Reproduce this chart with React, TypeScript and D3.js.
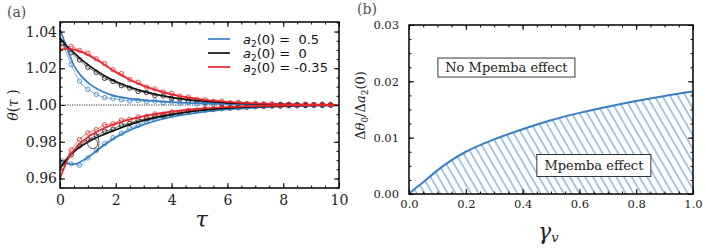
import { useRef, useEffect } from "react"
import * as d3 from "d3"

// panel (a): theory curves
const tauTheory = [0, 0.25, 0.5, 0.75, 1, 1.5, 2, 2.5, 3, 3.5, 4, 5, 6, 7, 8, 9, 10]
const blueUp = [1.041, 1.031, 1.0215, 1.016, 1.0122, 1.0075, 1.0048, 1.0035, 1.0027, 1.0021, 1.0016, 1.001, 1.0006, 1.0003, 1.0002, 1.0001, 1.0]
const blackUp = [1.0365, 1.032, 1.0285, 1.025, 1.022, 1.0168, 1.0128, 1.0098, 1.0074, 1.0056, 1.0042, 1.0023, 1.0012, 1.0006, 1.0003, 1.0001, 1.0]
const redUp = [1.0303, 1.0305, 1.0302, 1.029, 1.0272, 1.0228, 1.0178, 1.0138, 1.0104, 1.0078, 1.0058, 1.0032, 1.0017, 1.0009, 1.0004, 1.0002, 1.0001]
const blueLow = [0.9703, 0.968, 0.9678, 0.9692, 0.9715, 0.9773, 0.9823, 0.9862, 0.9893, 0.9917, 0.9935, 0.996, 0.9976, 0.9986, 0.9992, 0.9996, 0.9998]
const blackLow = [0.9655, 0.9705, 0.9745, 0.9775, 0.9798, 0.9835, 0.9865, 0.9893, 0.9916, 0.9934, 0.9948, 0.997, 0.9983, 0.9991, 0.9995, 0.9998, 0.9999]
const redLow = [0.96, 0.9695, 0.9755, 0.9795, 0.9825, 0.9868, 0.9898, 0.9921, 0.9939, 0.9953, 0.9964, 0.998, 0.9989, 0.9994, 0.9997, 0.9999, 0.9999]

// panel (a): simulation points
const tauSim = [0.1, 0.4, 0.7, 1.0, 1.3, 1.6, 1.9, 2.2, 2.5, 2.8, 3.1, 3.4, 3.7, 4.0, 4.3, 4.6, 4.9, 5.2, 5.5, 5.8, 6.1, 6.4, 6.7, 7.0, 7.3, 7.6, 7.9, 8.2, 8.5, 8.8, 9.1, 9.4, 9.7]
const blueUpSim = [1.034, 1.022, 1.013, 1.0085, 1.0058, 1.004, 1.0035, 1.0028, 1.0022, 1.0025, 1.0018, 1.0021, 1.0012, 1.0016, 1.0009, 1.0013, 1.0006, 1.0009, 1.0004, 1.0011, 1.0002, 1.0006, 0.9999, 1.0005, 1.0001, 0.9998, 1.0004, 0.9999, 1.0003, 0.9998, 1.0002, 0.9999, 1.0003]
const blackUpSim = [1.0335, 1.0285, 1.0245, 1.0205, 1.0178, 1.0145, 1.0128, 1.0105, 1.0092, 1.0074, 1.0068, 1.0052, 1.0049, 1.0036, 1.0033, 1.0024, 1.0022, 1.0015, 1.0016, 1.0008, 1.001, 1.0004, 1.0007, 1.0001, 1.0005, 0.9999, 1.0003, 1.0, 1.0002, 0.9998, 1.0002, 0.9999, 1.0001]
const redUpSim = [1.0312, 1.0318, 1.0297, 1.0281, 1.0252, 1.0226, 1.0192, 1.0171, 1.0139, 1.0124, 1.0098, 1.0088, 1.0071, 1.0063, 1.0049, 1.0044, 1.0031, 1.0029, 1.0019, 1.0021, 1.0011, 1.0014, 1.0005, 1.0009, 1.0003, 1.0007, 1.0001, 1.0005, 1.0, 1.0004, 1.0002, 1.0004, 1.0001]
const blueLowSim = [0.9695, 0.968, 0.9672, 0.9712, 0.9752, 0.979, 0.9822, 0.9846, 0.9874, 0.989, 0.9911, 0.9922, 0.9937, 0.9944, 0.9956, 0.996, 0.9971, 0.9972, 0.998, 0.9979, 0.9988, 0.9985, 0.9993, 0.999, 0.9996, 0.9993, 0.9999, 0.9995, 1.0001, 0.9997, 1.0002, 0.9998, 1.0002]
const blackLowSim = [0.9685, 0.9728, 0.9778, 0.9812, 0.9832, 0.9858, 0.9868, 0.9891, 0.99, 0.9918, 0.9925, 0.9939, 0.9943, 0.9955, 0.9957, 0.9967, 0.9968, 0.9977, 0.9976, 0.9984, 0.9983, 0.999, 0.9988, 0.9994, 0.9992, 0.9997, 0.9994, 0.9999, 0.9996, 1.0, 0.9997, 1.0001, 0.9998]
const redLowSim = [0.9665, 0.9755, 0.9812, 0.9848, 0.9866, 0.9892, 0.9898, 0.9918, 0.9922, 0.9935, 0.9938, 0.9951, 0.995, 0.9962, 0.996, 0.997, 0.9971, 0.998, 0.9979, 0.9987, 0.9986, 0.9993, 0.9991, 0.9997, 0.9995, 1.0001, 0.9997, 1.0003, 0.9999, 1.0004, 1.0, 1.0004, 1.0001]

const legendLabels = ["0.5", "0", "-0.35"]

// panel (b)
const gammaV = [0, 0.025, 0.05, 0.1, 0.15, 0.2, 0.3, 0.4, 0.5, 0.6, 0.7, 0.8, 0.9, 1.0]
const threshold = [0, 0.0011, 0.0021, 0.0042, 0.006, 0.0075, 0.0097, 0.0115, 0.0131, 0.0144, 0.0155, 0.0165, 0.0174, 0.0182]

const BLUE = "#3a7fc4"
const RED = "#e8262b"
const BLACK = "#111"
const SERIF = "'DejaVu Serif', serif"

export default function App() {
  const svgRef = useRef<SVGSVGElement>(null)

  useEffect(() => {
    const svg = d3.select(svgRef.current)
    svg.selectAll("*").remove()

    // ---------- panel (a)
    const ax = { left: 60, right: 339, top: 22, bottom: 188 }
    const x = d3.scaleLinear().domain([0, 10]).range([ax.left, ax.right])
    const y = d3.scaleLinear().domain([0.9548, 1.0452]).range([ax.bottom, ax.top])

    const frameTicks = (xs: any, ys: any, box: any, xMaj: number[], xMin: number[], yMaj: number[], yMin: number[], xFmt: any, yFmt: any, fs: number, xLabY: number, yLabGap: number) => {
      const g = svg.append("g")
      const addAxis = (axis: any, tr: string) => {
        const a = g.append("g").attr("transform", tr).call(axis)
        a.select(".domain").remove()
        a.selectAll("line").attr("stroke", "#000").attr("stroke-width", 1)
        return a
      }
      addAxis(d3.axisBottom(xs).tickValues(xMin).tickSize(-2.5).tickFormat(() => ""), `translate(0,${box.bottom})`)
      addAxis(d3.axisTop(xs).tickValues(xMin).tickSize(-2.5).tickFormat(() => ""), `translate(0,${box.top})`)
      addAxis(d3.axisTop(xs).tickValues(xMaj).tickSize(-5).tickFormat(() => ""), `translate(0,${box.top})`)
      addAxis(d3.axisLeft(ys).tickValues(yMin).tickSize(-2.5).tickFormat(() => ""), `translate(${box.left},0)`)
      addAxis(d3.axisRight(ys).tickValues(yMin).tickSize(-2.5).tickFormat(() => ""), `translate(${box.right},0)`)
      addAxis(d3.axisRight(ys).tickValues(yMaj).tickSize(-5).tickFormat(() => ""), `translate(${box.right},0)`)
      const bx = addAxis(d3.axisBottom(xs).tickValues(xMaj).tickSize(-5).tickPadding(0).tickFormat(xFmt), `translate(0,${box.bottom})`)
      bx.selectAll("text").attr("y", xLabY).attr("dy", 0).attr("font-family", SERIF).attr("font-size", fs).attr("fill", "#222")
      const ly = addAxis(d3.axisLeft(ys).tickValues(yMaj).tickSize(-5).tickPadding(0).tickFormat(yFmt), `translate(${box.left},0)`)
      ly.selectAll("text").attr("x", -yLabGap).attr("font-family", SERIF).attr("font-size", fs).attr("fill", "#222")
      g.append("rect").attr("x", box.left).attr("y", box.top)
        .attr("width", box.right - box.left).attr("height", box.bottom - box.top)
        .attr("fill", "none").attr("stroke", "#000").attr("stroke-width", 1.5)
    }

    const pa = svg.append("g")
    pa.append("line").attr("x1", x(0)).attr("x2", x(10)).attr("y1", y(1)).attr("y2", y(1))
      .attr("stroke", "#000").attr("stroke-width", 0.8).attr("stroke-dasharray", "1.2,1.2")

    const series = [
      { color: BLUE, theory: [blueUp, blueLow], sim: [blueUpSim, blueLowSim] },
      { color: BLACK, theory: [blackUp, blackLow], sim: [blackUpSim, blackLowSim] },
      { color: RED, theory: [redUp, redLow], sim: [redUpSim, redLowSim] },
    ]
    const line = d3.line<[number, number]>().x(d => x(d[0])).y(d => y(d[1])).curve(d3.curveMonotoneX)
    series.forEach(s => {
      s.sim.forEach(vals => {
        const pts = tauSim.map((t, i) => [t, vals[i]] as [number, number])
        pa.append("path").attr("d", line(pts)).attr("fill", "none").attr("stroke", s.color).attr("stroke-width", 0.7).attr("opacity", 0.9)
        pa.selectAll(null).data(pts).enter().append("circle")
          .attr("cx", d => x(d[0])).attr("cy", d => y(d[1])).attr("r", 2.2)
          .attr("fill", "none").attr("stroke", s.color).attr("stroke-width", 0.8)
      })
    })
    series.forEach(s => {
      s.theory.forEach(vals => {
        const pts = tauTheory.map((t, i) => [t, vals[i]] as [number, number])
        pa.append("path").attr("d", line(pts)).attr("fill", "none").attr("stroke", s.color).attr("stroke-width", 1.7)
      })
    })

    // annotation circle and bracket
    pa.append("circle").attr("cx", x(1.17)).attr("cy", y(0.979)).attr("r", 5)
      .attr("fill", "none").attr("stroke", "#333").attr("stroke-width", 0.8)
    pa.append("path")
      .attr("d", `M${x(1.3)},${y(0.9845)} A10,14 0 0 1 ${x(1.32)},${y(0.9745)}`)
      .attr("fill", "none").attr("stroke", "#333").attr("stroke-width", 0.8)

    frameTicks(x, y, ax, d3.range(0, 10.1, 2), d3.range(0, 10.1, 0.5),
      d3.range(0.96, 1.0401, 0.02), d3.range(0.955, 1.0451, 0.005),
      d3.format("d"), d3.format(".2f"), 14, 17, 3)

    // legend
    const leg = svg.append("g")
    series.forEach((s, i) => {
      const ly = 39 + i * 14
      leg.append("line").attr("x1", 208).attr("x2", 230).attr("y1", ly).attr("y2", ly)
        .attr("stroke", s.color).attr("stroke-width", 1.7)
      const t = leg.append("text").attr("x", 243).attr("y", ly + 5)
        .attr("font-family", "'DejaVu Sans', sans-serif").attr("font-size", 13).attr("fill", "#111")
      t.append("tspan").attr("font-style", "italic").text("a")
      t.append("tspan").attr("font-size", 9).attr("dy", 3).text("2")
      t.append("tspan").attr("dy", -3).attr("xml:space", "preserve").text(`(0) = ${legendLabels[i].startsWith("-") ? "" : " "}${legendLabels[i]}`)
    })

    // axis labels (a)
    svg.append("text").attr("x", 0).attr("y", 0)
      .attr("transform", `translate(18,${(ax.top + ax.bottom) / 2}) rotate(-90)`)
      .attr("text-anchor", "middle").attr("font-family", SERIF).attr("font-size", 14).attr("fill", "#222")
      .call(t => {
        t.append("tspan").attr("font-style", "italic").text("θ")
        t.append("tspan").text("(")
        t.append("tspan").attr("font-style", "italic").text("τ ")
        t.append("tspan").text(")")
      })
    svg.append("text").attr("x", (ax.left + ax.right) / 2 + 2).attr("y", 227)
      .attr("text-anchor", "middle").attr("font-family", SERIF).attr("font-style", "italic")
      .attr("font-size", 22).attr("fill", "#222").text("τ")
    svg.append("text").attr("x", 7).attr("y", 17).attr("font-family", SERIF)
      .attr("font-size", 14).attr("fill", "#555").text("(a)")

    // ---------- panel (b)
    const bx = { left: 409, right: 693, top: 25, bottom: 194 }
    const xb = d3.scaleLinear().domain([0, 1]).range([bx.left, bx.right])
    const yb = d3.scaleLinear().domain([0, 0.03]).range([bx.bottom, bx.top])

    const defs = svg.append("defs")
    defs.append("pattern").attr("id", "hatch").attr("patternUnits", "userSpaceOnUse")
      .attr("width", 6.7).attr("height", 10).attr("patternTransform", "rotate(-30)")
      .append("line").attr("x1", 3).attr("x2", 3).attr("y1", 0).attr("y2", 10)
      .attr("stroke", BLUE).attr("stroke-width", 0.9)

    const pts = gammaV.map((g, i) => [g, threshold[i]] as [number, number])
    const area = d3.area<[number, number]>().x(d => xb(d[0])).y0(yb(0)).y1(d => yb(d[1])).curve(d3.curveMonotoneX)
    const lineB = d3.line<[number, number]>().x(d => xb(d[0])).y(d => yb(d[1])).curve(d3.curveMonotoneX)
    svg.append("path").attr("d", area(pts)).attr("fill", "url(#hatch)")
    svg.append("path").attr("d", lineB(pts)).attr("fill", "none").attr("stroke", BLUE).attr("stroke-width", 2)

    frameTicks(xb, yb, bx, d3.range(0, 1.01, 0.2), d3.range(0, 1.01, 0.05),
      d3.range(0, 0.0301, 0.01), d3.range(0, 0.0301, 0.0025),
      d3.format(".1f"), d3.format(".2f"), 11.5, 14, 10)

    const box = (label: string, cx: number, cy: number, w: number, h: number) => {
      svg.append("rect").attr("x", xb(cx) - w / 2).attr("y", yb(cy) - h / 2).attr("width", w).attr("height", h)
        .attr("fill", "#fff").attr("stroke", "#222").attr("stroke-width", 0.9)
      svg.append("text").attr("x", xb(cx)).attr("y", yb(cy) + 4.5).attr("text-anchor", "middle")
        .attr("font-family", SERIF).attr("font-size", 13).attr("fill", "#222").text(label)
    }
    box("No Mpemba effect", 0.343, 0.02245, 137, 19)
    box("Mpemba effect", 0.651, 0.00506, 114, 22)

    svg.append("text").attr("x", 0).attr("y", 0)
      .attr("transform", `translate(365,${(bx.top + bx.bottom) / 2 - 4}) rotate(-90)`)
      .attr("text-anchor", "middle").attr("font-family", SERIF).attr("font-size", 13).attr("fill", "#222")
      .call(t => {
        t.append("tspan").text("Δ")
        t.append("tspan").attr("font-style", "italic").text("θ")
        t.append("tspan").attr("font-size", 9).attr("dy", 3).text("0")
        t.append("tspan").attr("dy", -3).text("/Δ")
        t.append("tspan").attr("font-style", "italic").text("a")
        t.append("tspan").attr("font-size", 9).attr("dy", 3).text("2")
        t.append("tspan").attr("dy", -3).text("(0)")
      })
    svg.append("text").attr("x", 538).attr("y", 239).attr("font-family", SERIF)
      .attr("font-style", "italic").attr("font-size", 22).attr("fill", "#222")
      .call(t => {
        t.append("tspan").text("γ")
        t.append("tspan").attr("font-size", 13).attr("dy", 3).text("v")
      })
    svg.append("text").attr("x", 357).attr("y", 14).attr("font-family", SERIF)
      .attr("font-size", 14).attr("fill", "#555").text("(b)")
  }, [])

  return (
    <div style={{ position: "absolute", left: 0, top: 0 }}>
      <svg ref={svgRef} width={706} height={249} style={{ display: "block", background: "#fff" }} />
    </div>
  )
}
